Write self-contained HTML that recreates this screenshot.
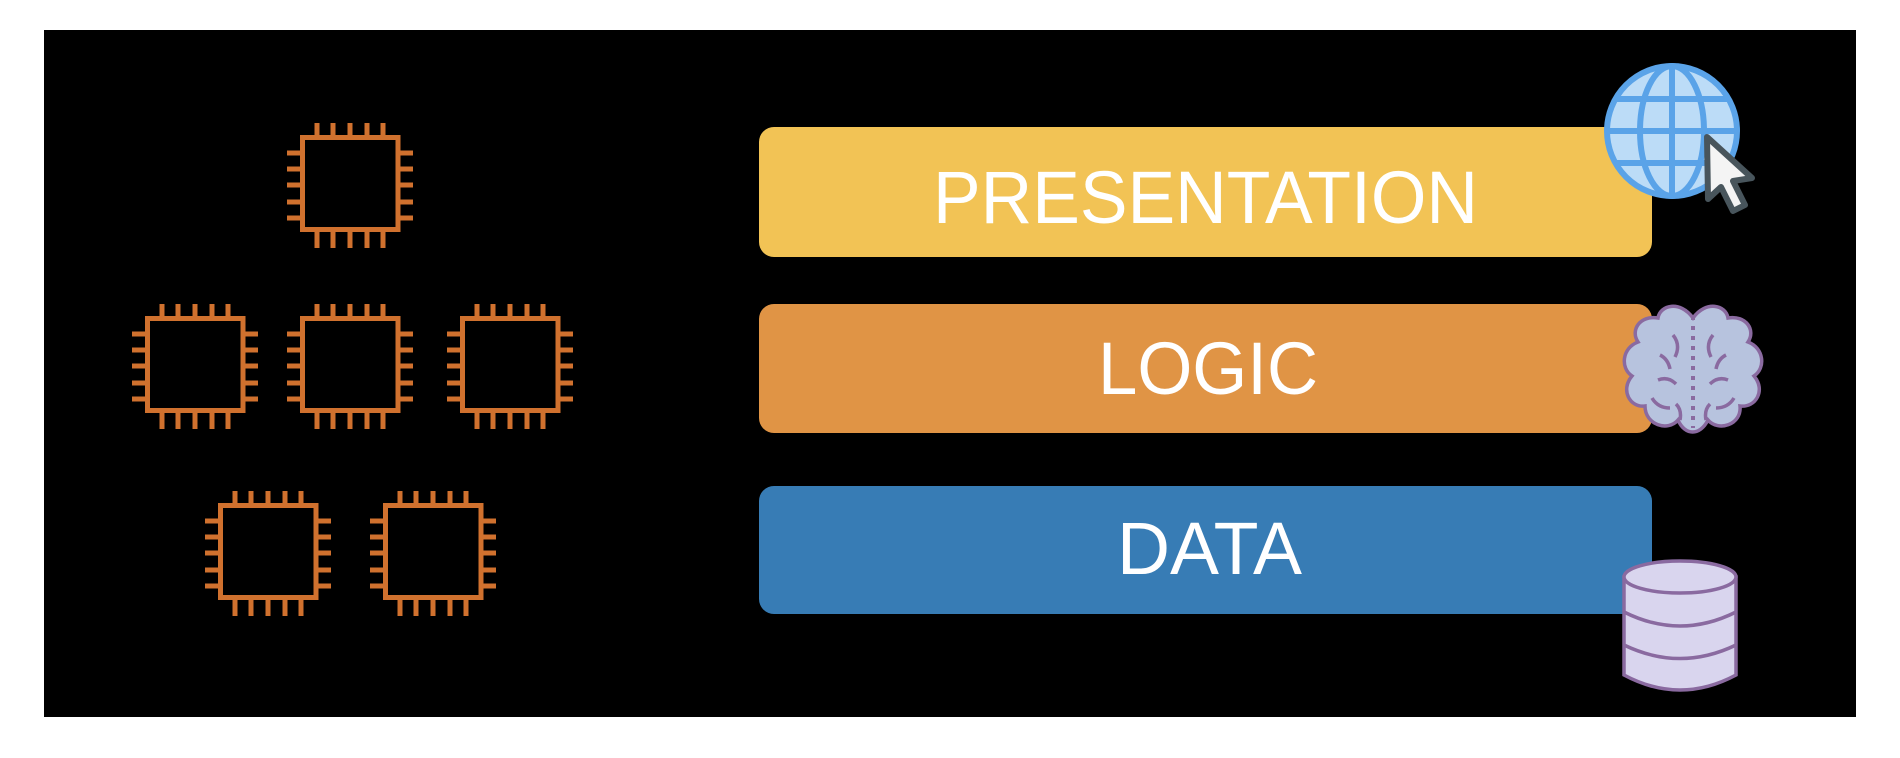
<!DOCTYPE html>
<html><head><meta charset="utf-8"><style>
html,body{margin:0;padding:0;background:#fff;width:1900px;height:758px;overflow:hidden}
svg{display:block}
text{font-family:"Liberation Sans",sans-serif;fill:#fff}
</style></head><body>
<svg width="1900" height="758" viewBox="0 0 1900 758" xmlns="http://www.w3.org/2000/svg">
<defs>
<g id="chip" fill="none" stroke="#d0712e" stroke-width="5">
<rect x="302.5" y="137.5" width="95.5" height="92"/>
<path d="M317 123v14M333 123v14M350 123v14M367 123v14M383 123v14M317 230v18M333 230v18M350 230v18M367 230v18M383 230v18M287 153h14M287 169h14M287 185h14M287 202h14M287 218h14M399 153h14M399 169h14M399 185h14M399 202h14M399 218h14"/>
</g>
</defs>
<rect x="44" y="30" width="1812" height="687" fill="#000"/>
<use href="#chip"/>
<use href="#chip" transform="translate(-155,181)"/>
<use href="#chip" transform="translate(0,181)"/>
<use href="#chip" transform="translate(160,181)"/>
<use href="#chip" transform="translate(-82,368)"/>
<use href="#chip" transform="translate(83,368)"/>

<rect x="759" y="127" width="893" height="130" rx="15" fill="#f2c355"/>
<rect x="759" y="304" width="893" height="129" rx="15" fill="#e09445"/>
<rect x="759" y="486" width="893" height="128" rx="15" fill="#377cb5"/>
<text x="933" y="223" font-size="74" textLength="545" lengthAdjust="spacingAndGlyphs">PRESENTATION</text>
<text x="1098" y="394" font-size="74" textLength="220" lengthAdjust="spacingAndGlyphs">LOGIC</text>
<text x="1117" y="574" font-size="74" textLength="185" lengthAdjust="spacingAndGlyphs">DATA</text>

<!-- globe -->
<g stroke="#5aa3e8" stroke-width="6" fill="none">
<circle cx="1672" cy="131" r="65" fill="#bcdcf7"/>
<ellipse cx="1672" cy="131" rx="32" ry="65"/>
<line x1="1672" y1="66" x2="1672" y2="196"/>
<line x1="1607" y1="131" x2="1737" y2="131"/>
<line x1="1616" y1="99" x2="1728" y2="99"/>
<line x1="1616" y1="163" x2="1728" y2="163"/>
</g>
<path d="M1707 137 L1752 178 L1733 181 L1745 205 L1733 211 L1721 187 L1708 199 Z" fill="#f4f4f4" stroke="#48555c" stroke-width="6" stroke-linejoin="round"/>

<!-- brain -->
<g stroke="#8a6aa0" stroke-width="3.5" fill="#b7c3de">
<path d="M1693 318 C1680 300 1660 305 1658 318 C1640 315 1630 330 1638 342 C1622 348 1620 368 1632 376 C1620 390 1630 408 1645 406 C1645 425 1668 432 1678 420 C1685 436 1700 436 1708 420 C1718 432 1742 425 1740 406 C1756 408 1766 390 1754 376 C1766 368 1764 348 1748 342 C1756 330 1746 315 1728 318 C1726 305 1706 300 1693 318 Z"/>
<path d="M1693 316 V428" fill="none" stroke-dasharray="4 6" stroke-width="4"/>
<path d="M1673 335 q8 10 2 22 M1713 335 q-8 10 -2 22 M1660 355 q8 4 10 14 M1726 355 q-8 4 -10 14 M1658 380 q10 -4 18 4 M1728 380 q-10 -4 -18 4 M1652 398 q6 10 18 10 M1734 398 q-6 10 -18 10 M1676 404 q6 6 4 16 M1710 404 q-6 6 -4 16" fill="none"/>
</g>

<!-- database -->
<g stroke="#8a6aa0" stroke-width="3.5" fill="#d9d5ee">
<path d="M1624 577 V675 Q1680 705 1736 675 V577 Z"/>
<ellipse cx="1680" cy="577" rx="56" ry="16"/>
<path d="M1624 612 Q1680 640 1736 612 M1624 645 Q1680 672 1736 645" fill="none"/>
</g>
</svg>
</body></html>
